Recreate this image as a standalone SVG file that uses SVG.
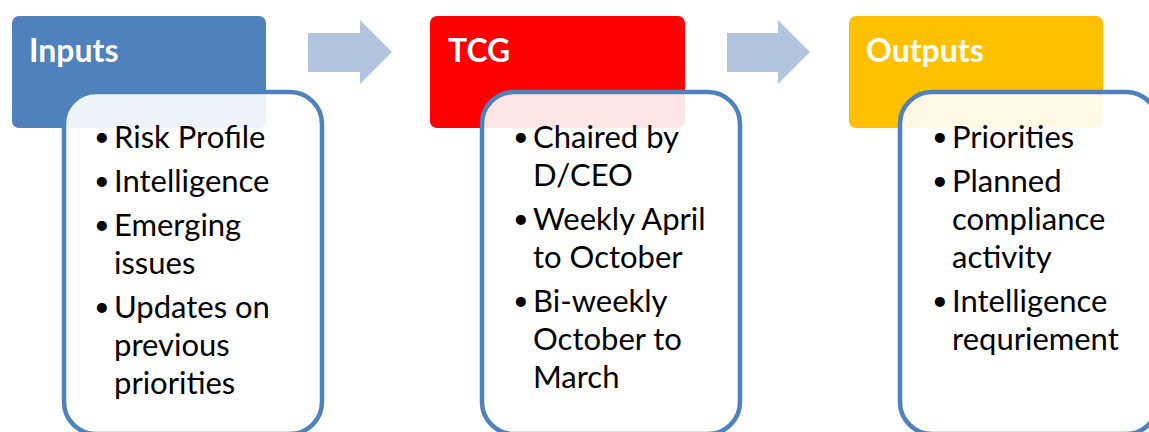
<svg xmlns="http://www.w3.org/2000/svg" width="1149" height="432" viewBox="0 0 1149 432">
<style>
.hdr{stroke:none}
.title{font-family:Lato,"Liberation Sans",sans-serif;font-weight:bold;font-size:32px;fill:#FFFFFF}
.box{fill:#FFFFFF;fill-opacity:0.9;stroke:#4F81BD;stroke-width:4.5}
.txt{font-family:Lato,"Liberation Sans",sans-serif;font-size:31px;fill:#000000}
.bul{font-family:Lato,"Liberation Sans",sans-serif;font-size:27px;fill:#000000}
.arrow{fill:#B3C4DE;stroke:none}
</style>
<rect width="1149" height="432" fill="#FFFFFF"/>
<g id="connectors">
<polygon class="arrow" points="308,33 360,33 360,20 392,52 360,84 360,72 308,72"/>
<polygon class="arrow" points="727,33 778,33 778,20 810,52 778,84 778,72 727,72"/>
</g>
<g id="inputs">
<rect class="hdr" x="12" y="16" width="254" height="112" rx="7" fill="#4F81BD"/>
<text class="title" x="29" y="62">Inputs</text>
<rect class="box" x="64" y="92" width="258" height="342" rx="32"/>
<text class="bul" x="94" y="146">•</text><text class="txt" x="114" y="148">Risk Profile</text>
<text class="bul" x="94" y="190">•</text><text class="txt" x="114" y="192">Intelligence</text>
<text class="bul" x="94" y="234">•</text><text class="txt" x="114" y="236">Emerging</text>
<text class="txt" x="114" y="274">issues</text>
<text class="bul" x="94" y="316">•</text><text class="txt" x="114" y="318">Updates on</text>
<text class="txt" x="114" y="356">previous</text>
<text class="txt" x="114" y="394">priorities</text>
</g>
<g id="tcg">
<rect class="hdr" x="430" y="16" width="255" height="112" rx="7" fill="#FF0000"/>
<text class="title" x="448" y="62">TCG</text>
<rect class="box" x="482" y="92" width="258" height="342" rx="32"/>
<text class="bul" x="513" y="146">•</text><text class="txt" x="533" y="148">Chaired by</text>
<text class="txt" x="533" y="186">D/CEO</text>
<text class="bul" x="513" y="228">•</text><text class="txt" x="533" y="230">Weekly April</text>
<text class="txt" x="533" y="268">to October</text>
<text class="bul" x="513" y="310">•</text><text class="txt" x="533" y="312">Bi-weekly</text>
<text class="txt" x="533" y="350">October to</text>
<text class="txt" x="533" y="388">March</text>
</g>
<g id="outputs">
<rect class="hdr" x="849" y="16" width="254" height="112" rx="7" fill="#FFC000"/>
<text class="title" x="866" y="62">Outputs</text>
<rect class="box" x="900" y="92" width="258" height="342" rx="32"/>
<text class="bul" x="932" y="146">•</text><text class="txt" x="952" y="148">Priorities</text>
<text class="bul" x="932" y="190">•</text><text class="txt" x="952" y="192">Planned</text>
<text class="txt" x="952" y="230">compliance</text>
<text class="txt" x="952" y="268">activity</text>
<text class="bul" x="932" y="310">•</text><text class="txt" x="952" y="312">Intelligence</text>
<text class="txt" x="952" y="350">requriement</text>
</g>
</svg>
